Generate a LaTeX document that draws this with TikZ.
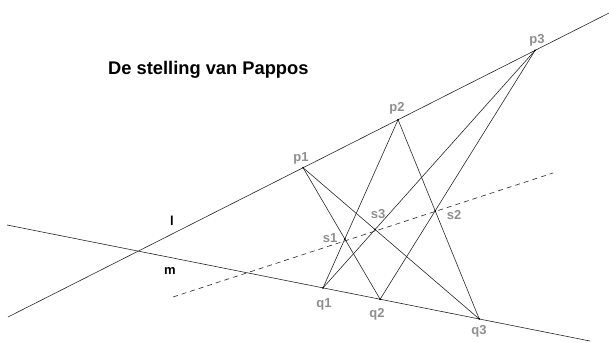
\documentclass[tikz,border=0pt]{standalone}
\usepackage{fontspec}
\setmainfont{Liberation Sans}
\usetikzlibrary{calc}
\definecolor{lblgray}{HTML}{8E8E8E}
\begin{document}
\begin{tikzpicture}[x=1pt,y=-1pt,
  geomline/.style={draw=black!85,line width=0.6pt},
  dashline/.style={draw=black!85,line width=0.6pt,dash pattern=on 5pt off 4pt},
  ptlabel/.style={text=lblgray,font=\bfseries\fontsize{13}{13}\selectfont,inner sep=0pt},
  linelabel/.style={text=black,font=\bfseries\fontsize{13}{13}\selectfont,inner sep=0pt},
  titlelabel/.style={font=\bfseries\fontsize{18.3}{18.3}\selectfont,inner sep=0pt,anchor=base west},
  dot/.style={circle,fill=black,inner sep=0pt,minimum size=2pt}]
\useasboundingbox (0,0) rectangle (609,342);
% lines l and m
\coordinate (lA) at (8,317);
\coordinate (lB) at (609,13);
\coordinate (mA) at (7,225);
\coordinate (mB) at (590,341);
\draw[geomline] (lA) -- (lB);
\draw[geomline] (mA) -- (mB);
% points
\coordinate (p1) at ($(lA)!0.491!(lB)$);
\coordinate (p2) at ($(lA)!0.649!(lB)$);
\coordinate (p3) at ($(lA)!0.877!(lB)$);
\coordinate (q1) at ($(mA)!0.542!(mB)$);
\coordinate (q2) at ($(mA)!0.640!(mB)$);
\coordinate (q3) at ($(mA)!0.810!(mB)$);
% cross lines
\draw[geomline] (p1) -- (q2);
\draw[geomline] (p2) -- (q1);
\draw[geomline] (p1) -- (q3);
\draw[geomline] (p3) -- (q1);
\draw[geomline] (p2) -- (q3);
\draw[geomline] (p3) -- (q2);
% Pappus points
\coordinate (s1) at (intersection of p1--q2 and p2--q1);
\coordinate (s2) at (intersection of p2--q3 and p3--q2);
\coordinate (s3) at (intersection of p1--q3 and p3--q1);
% Pappus line (dashed)
\coordinate (dA) at (173,297);
\coordinate (dB) at (553,173);
\draw[dashline] (dA) -- (dB);
\foreach \n in {p1,p2,p3,q1,q2,q3,s1,s2,s3} \node[dot] (d\n) at (\n) {};
% labels
\node[ptlabel] (Lp1) at (301,158) {p1};
\node[ptlabel] (Lp2) at (397,108) {p2};
\node[ptlabel] (Lp3) at (537,40) {p3};
\node[ptlabel] (Lq1) at (324,304) {q1};
\node[ptlabel] (Lq2) at (377,314) {q2};
\node[ptlabel] (Lq3) at (479,331) {q3};
\node[ptlabel] (Ls1) at (330,238) {s1};
\node[ptlabel] (Ls2) at (454,215) {s2};
\node[ptlabel] (Ls3) at (378,214) {s3};
\node[linelabel] (Ll) at (172,221) {l};
\node[linelabel] (Lm) at (170,271) {m};
\node[titlelabel] (title) at (108,75) {De stelling van Pappos};
\end{tikzpicture}
\end{document}
